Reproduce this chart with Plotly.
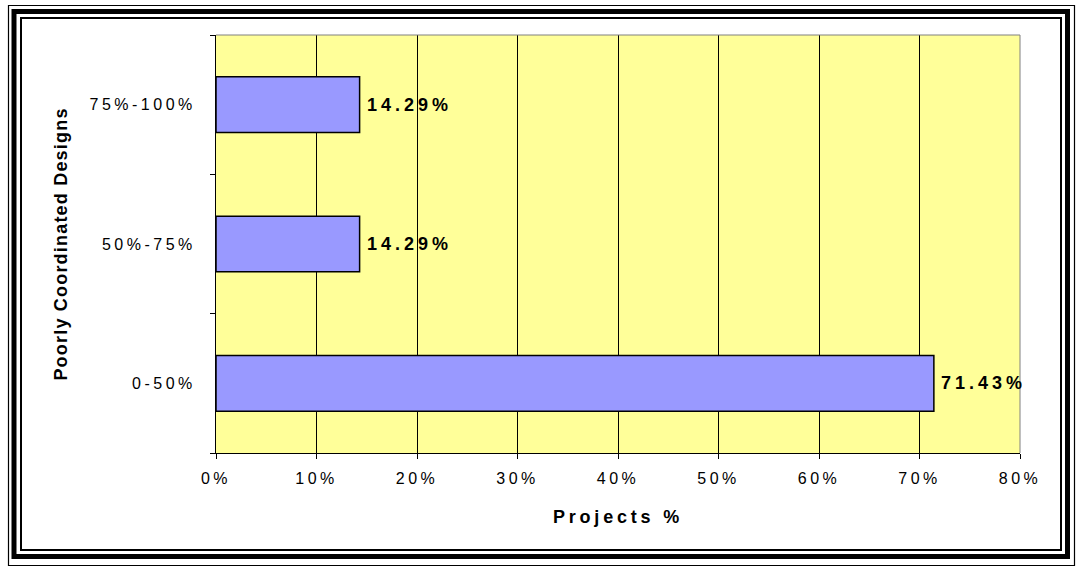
import plotly.graph_objects as go

# ---- data ----
categories = ["0-50%", "50%-75%", "75%-100%"]
values = [71.43, 14.29, 14.29]
x_range = [0, 80]
x_step = 10
x_title = "Projects %"
y_title = "Poorly Coordinated Designs"

W, H = 1077, 567
L, R, T, B = 216, 1020, 35, 453
FONT = "Liberation Sans, Arial, sans-serif"


def px(x):
    return (x - L) / (R - L)


def py(y):
    return (B - y) / (B - T)


fig = go.Figure()
fig.add_trace(go.Bar(
    y=categories, x=values, orientation="h", width=0.4,
    marker=dict(color="#9999FF", line=dict(color="black", width=1.5)),
    hoverinfo="skip", showlegend=False,
))

annotations = []
for c, v in zip(categories, values):
    annotations.append(dict(
        x=v, y=c, xref="x", yref="y", text=f"<b>{v:.2f}%</b>",
        showarrow=False, xanchor="left", yanchor="middle", xshift=5,
        align="left",
        font=dict(family=FONT, size=18, color="black"),
    ))

shapes = [
    # plot area border top and right (grey)
    dict(type="line", xref="paper", yref="paper", x0=0, y0=1, x1=1, y1=1,
         line=dict(color="#808080", width=1), layer="above"),
    dict(type="line", xref="paper", yref="paper", x0=1, y0=0, x1=1, y1=1,
         line=dict(color="#808080", width=1), layer="above"),
    # outer double frame
    dict(type="rect", xref="paper", yref="paper", x0=px(8.5), x1=px(1074.5),
         y0=py(565.5), y1=py(5.5), line=dict(color="black", width=1.2)),
    dict(type="rect", xref="paper", yref="paper", x0=px(14), x1=px(1067.5),
         y0=py(556.5), y1=py(11.5), line=dict(color="black", width=5)),
    dict(type="rect", xref="paper", yref="paper", x0=px(21), x1=px(1061),
         y0=py(550), y1=py(18), line=dict(color="black", width=2)),
]

fig.update_layout(
    width=W, height=H,
    margin=dict(l=L, r=W - R, t=T, b=H - B, autoexpand=False),
    paper_bgcolor="white", plot_bgcolor="#FFFF99",
    font=dict(family=FONT, size=16, color="black"),
    annotations=annotations, shapes=shapes,
    xaxis=dict(
        range=x_range, tickmode="linear", tick0=0, dtick=x_step, ticksuffix="%",
        showgrid=True, gridcolor="black", gridwidth=1,
        showline=True, linecolor="black", linewidth=1,
        ticks="outside", ticklen=5, tickcolor="black", tickwidth=1,
        ticklabelstandoff=6,
        zeroline=False, automargin=False,
        tickfont=dict(family=FONT, size=16, color="black"),
        title=dict(text=f"<b>{x_title}</b>", standoff=24,
                   font=dict(family=FONT, size=18, color="black")),
        fixedrange=True,
    ),
    yaxis=dict(
        type="category", categoryorder="array", categoryarray=categories,
        range=[-0.5, 2.5], showgrid=False,
        showline=True, linecolor="black", linewidth=1,
        ticks="outside", ticklen=5, tickcolor="black", tickwidth=1,
        tickson="boundaries", ticklabelstandoff=16,
        zeroline=False, automargin=False,
        tickfont=dict(family=FONT, size=16, color="black"),
        title=dict(text=f"<b>{y_title}</b>", standoff=45,
                   font=dict(family=FONT, size=18, color="black")),
        fixedrange=True,
    ),
)

css = (
    "body {margin: 0 !important;}"
    " .xtick text, .ytick text {letter-spacing: 3.5px;}"
    " .annotation-text {letter-spacing: 4px;}"
    " text.xtitle {letter-spacing: 3.8px;}"
    " text.ytitle {letter-spacing: 1.2px;}"
)
post = (
    "var s=document.createElement('style');"
    f"s.textContent='{css}';"
    "document.head.appendChild(s);"
)

fig.write_html("out.html", post_script=post, config={"displayModeBar": False})
